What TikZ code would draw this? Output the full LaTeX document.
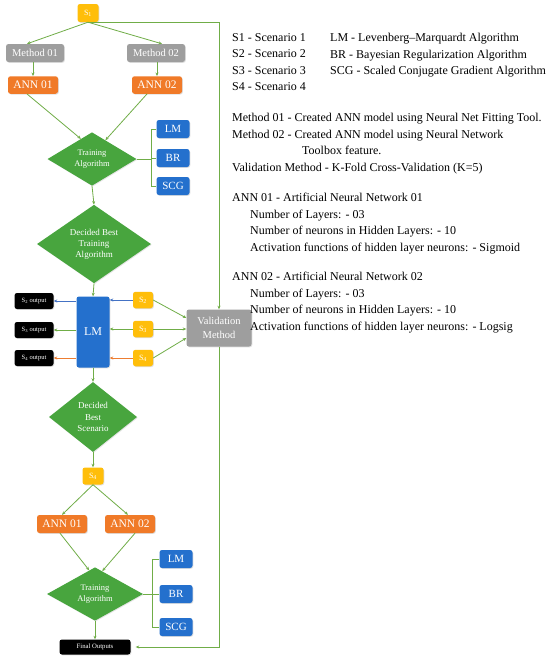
\documentclass[tikz,border=0pt]{standalone}
\usepackage{fontspec}
\setmainfont{Liberation Serif}
\usetikzlibrary{shapes.geometric,arrows.meta,shadows,calc}
\definecolor{cgreen}{RGB}{72,165,62}
\definecolor{lgreen}{RGB}{112,173,71}
\definecolor{cgray}{RGB}{158,158,158}
\definecolor{corange}{RGB}{240,122,40}
\definecolor{cblue}{RGB}{36,112,205}
\definecolor{cyellow}{RGB}{255,190,10}
\definecolor{arrblue}{RGB}{68,114,196}
\definecolor{arrorange}{RGB}{237,125,49}
\begin{document}
\begin{tikzpicture}[x=1pt,y=-1pt,
  box/.style={rounded corners=2.5pt, inner sep=0pt, text=white,
    drop shadow={opacity=0.25, shadow xshift=0.8pt, shadow yshift=-0.8pt}},
  graybox/.style={box, fill=cgray, font=\fontsize{10.5}{14}\selectfont},
  annbox/.style={box, fill=corange, minimum width=50, minimum height=17.5, font=\fontsize{11.5}{13}\selectfont},
  bluebox/.style={box, fill=cblue, minimum width=33, minimum height=18, font=\fontsize{11}{13}\selectfont},
  sbox/.style={box, fill=cyellow, minimum width=20, minimum height=16.5, font=\fontsize{8}{9}\selectfont},
  outbox/.style={box, fill=black, minimum width=39, minimum height=16, font=\fontsize{6.5}{8}\selectfont},
  dia/.style={diamond, fill=cgreen, inner sep=0pt, text=white, align=center,
    drop shadow={opacity=0.2, shadow xshift=0.8pt, shadow yshift=-0.8pt}},
  conn/.style={draw=lgreen, line width=0.8pt, -{Stealth[length=3.5pt,width=3pt]}},
  plain/.style={draw=lgreen, line width=0.8pt},
  legend/.style={anchor=north west, inner sep=0pt, align=left, font=\fontsize{12}{16.6}\selectfont}
]
\useasboundingbox[fill=white] (0,0) rectangle (550,662);

% ---- top part
\node[sbox, minimum width=21, minimum height=18] (s1) at (88,13) {S\textsubscript{1}};
\node[graybox, minimum width=58, minimum height=18] (m1) at (35,53) {Method 01};
\node[graybox, minimum width=58, minimum height=18] (m2) at (156,53) {Method 02};
\node[annbox] (a1) at (33,85) {ANN 01};
\node[annbox] (a2) at (157,85) {ANN 02};
\node[dia, minimum width=89, minimum height=52, font=\fontsize{8.5}{10.5}\selectfont] (t1) at (92,159) {Training\\Algorithm};
\node[bluebox] (lm1) at (173,129) {LM};
\node[bluebox] (br1) at (173,158) {BR};
\node[bluebox] (scg1) at (173,186) {SCG};
\coordinate (b1) at (151,159);
\node[dia, minimum width=114, minimum height=72, font=\fontsize{9}{11}\selectfont] (d1) at (94,244) {Decided Best\\Training\\Algorithm};

% ---- middle
\node[box, fill=cblue, minimum width=33, minimum height=71, font=\fontsize{12}{14}\selectfont] (lm) at (93,332) {LM};
\node[sbox] (s2) at (143,300) {S\textsubscript{2}};
\node[sbox] (s3) at (143,329) {S\textsubscript{3}};
\node[sbox] (s4) at (143,358) {S\textsubscript{4}};
\node[outbox] (o2) at (34,301) {S\textsubscript{2} output};
\node[outbox] (o3) at (34,330) {S\textsubscript{3} output};
\node[outbox] (o4) at (34,358) {S\textsubscript{4} output};
\node[graybox, minimum width=65, minimum height=37, align=center] (val) at (219,328) {Validation\\Method};

% ---- bottom
\node[dia, minimum width=88, minimum height=70, font=\fontsize{9}{11.5}\selectfont] (d2) at (93,417) {Decided\\Best\\Scenario};
\node[sbox, minimum width=21, minimum height=17] (s4b) at (93,476) {S\textsubscript{4}};
\node[annbox, minimum height=18] (a3) at (62,524) {ANN 01};
\node[annbox, minimum height=18] (a4) at (130,524) {ANN 02};
\node[dia, minimum width=96, minimum height=52, font=\fontsize{8.5}{10.5}\selectfont] (t2) at (95,594) {Training\\Algorithm};
\node[bluebox] (lm2) at (176,559) {LM};
\node[bluebox] (br2) at (176,594) {BR};
\node[bluebox] (scg2) at (176,627) {SCG};
\coordinate (b2) at (152,594);
\node[box, fill=black, minimum width=71, minimum height=15, font=\fontsize{6.7}{8}\selectfont] (fo) at (95,647) {Final Outputs};

% ---- connectors top
\draw[conn] (s1.south) -- ([xshift=-8pt]m1.north);
\draw[conn] (s1.south) -- ([xshift=6pt]m2.north);
\draw[conn] (s1.south) -| (val.north);
\draw[conn] (a1.north |- m1.south) -- (a1.north);
\draw[conn] (a2.north |- m2.south) -- (a2.north);
\draw[conn] ([xshift=-6pt]a1.south) -- ($(t1.north)!0.25!(t1.west)$);
\draw[conn] ([xshift=-10pt]a2.south) -- ($(t1.north)!0.3!(t1.east)$);
\draw[plain] (t1.east) -- (b1);
\draw[plain] (lm1.west) -- (lm1.west -| b1) -- (scg1.west -| b1) -- (scg1.west);
\draw[plain] (br1.west) -- (br1.west -| b1);
\draw[conn] (t1.south) -- (d1.north);
\draw[conn] (d1.south) -- (lm.north);

% ---- connectors middle
\draw[conn, draw=arrblue] (lm.west |- o2) -- (o2.east);
\draw[conn] (lm.west |- o3) -- (o3.east);
\draw[conn, draw=arrorange] (lm.west |- o4) -- (o4.east);
\draw[conn, draw=arrblue] (s2.west) -- (lm.east |- s2);
\draw[conn] (s3.west) -- (lm.east |- s3);
\draw[conn, draw=arrorange] (s4.west) -- (lm.east |- s4);
\draw[conn] (s2.east) -- ([yshift=10pt]val.west);
\draw[conn] (s3.east) -- (val.west |- s3);
\draw[conn] (s4.east) -- ([yshift=-10pt]val.west);
\draw[conn, shorten >=5pt] (val.south) |- (fo.east);

% ---- connectors bottom
\draw[conn] (lm.south) -- (d2.north);
\draw[conn] (d2.south) -- (s4b.north);
\draw[conn] (s4b.south) -- (a3.north);
\draw[conn] (s4b.south) -- ([xshift=-2pt]a4.north);
\draw[conn] ([xshift=-2pt]a3.south) -- ($(t2.north)!0.12!(t2.west)$);
\draw[conn] ([xshift=5pt]a4.south) -- ($(t2.north)!0.15!(t2.east)$);
\draw[plain] (t2.east) -- (b2);
\draw[plain] (lm2.west) -- (lm2.west -| b2) -- (scg2.west -| b2) -- (scg2.west);
\draw[plain] (br2.west) -- (br2.west -| b2);
\draw[conn] (t2.south) -- (fo.north);

% ---- legend text
\node[legend] (lgA) at (232,33) {S1 - Scenario 1\\S2 - Scenario 2\\S3 - Scenario 3\\S4 - Scenario 4};
\node[legend] (lgB) at (330,33) {LM - Levenberg–Marquardt Algorithm\\BR - Bayesian Regularization Algorithm\\SCG - Scaled Conjugate Gradient Algorithm};
\node[legend] (lgC) at (232,113) {Method 01 - Created ANN model using Neural Net Fitting Tool.\\Method 02 - Created ANN model using Neural Network\\\hspace*{70pt}Toolbox feature.\\Validation Method - K-Fold Cross-Validation (K=5)};
\node[legend] (lgD) at (232,193) {ANN 01 - Artificial Neural Network 01\\\hspace*{18pt}Number of Layers: - 03\\\hspace*{18pt}Number of neurons in Hidden Layers: - 10\\\hspace*{18pt}Activation functions of hidden layer neurons: - Sigmoid};
\node[legend] (lgE) at (232,272) {ANN 02 - Artificial Neural Network 02\\\hspace*{18pt}Number of Layers: - 03\\\hspace*{18pt}Number of neurons in Hidden Layers: - 10\\\hspace*{18pt}Activation functions of hidden layer neurons: - Logsig};
\end{tikzpicture}
\end{document}
